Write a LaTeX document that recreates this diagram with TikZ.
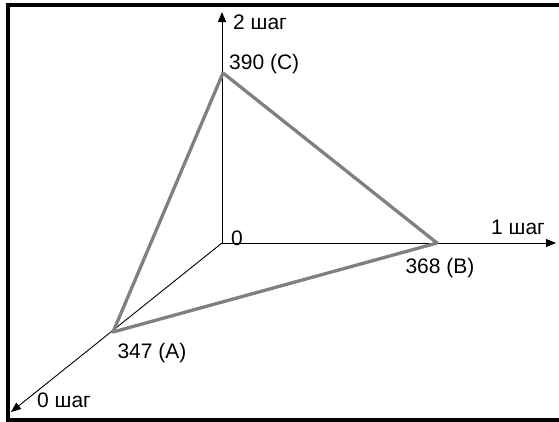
\documentclass[tikz,border=0pt]{standalone}
\usepackage{fontspec}
\setmainfont{Liberation Sans}
\usetikzlibrary{arrows.meta}
\definecolor{trigray}{HTML}{808080}

\begin{document}
\begin{tikzpicture}[x=1pt, y=-1pt,
  every node/.style={font=\fontsize{21}{25}\selectfont, inner sep=0pt},
  axis/.style={-{Triangle[length=10pt, width=8pt]}, line width=0.9pt, black},
  tri/.style={draw=trigray, line width=3.3pt, line join=round},
  rahmen/.style={draw=black, line width=4pt}
]
\useasboundingbox (0,0) rectangle (559,421);
\draw[rahmen] (7.5,5) rectangle (580,420);
% points
\coordinate (O) at (222,243);
\coordinate (A) at (113,332);
\coordinate (B) at (437,243);
\coordinate (C) at (223,73);
\coordinate (Xend) at (556,243);
\coordinate (Yend) at (222,12);
\coordinate (Zend) at (11,412);
% axes
\draw[axis] (O) -- (Xend);
\draw[axis] (O) -- (Yend);
\draw[axis] (O) -- (Zend);
% triangle
\draw[tri] (A) -- (B) -- (C) -- cycle;
% labels
\node (nullO) at (237,238) {0};
\node[anchor=west] (lblC) at (229,64) {390 (C)};
\node (lblB) at (440,268) {368 (B)};
\node (lblA) at (152,353) {347 (A)};
\node[anchor=west] (lblX) at (491,227) {1 шаг};
\node[anchor=west] (lblY) at (233,22) {2 шаг};
\node[anchor=west] (lblZ) at (37,400) {0 шаг};
\end{tikzpicture}
\end{document}
